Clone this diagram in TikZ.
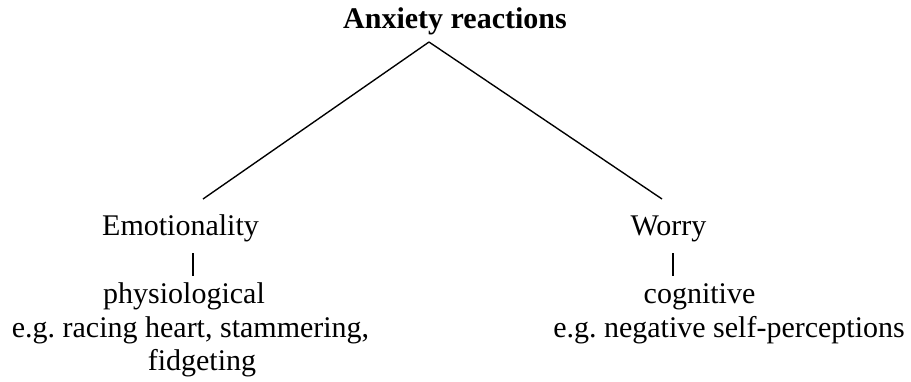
\documentclass[tikz,border=0pt]{standalone}
\usepackage{fontspec}
\setmainfont{Liberation Serif}
\usepackage{tikz}
\usetikzlibrary{positioning}
\tikzset{
  tree-text/.style={anchor=base, inner sep=0pt, font=\fontsize{12}{14}\selectfont\frenchspacing},
  root-text/.style={tree-text, font=\fontsize{12}{14}\selectfont\bfseries},
  tree-line/.style={draw=black, line width=0.55pt}
}
\begin{document}
\begin{tikzpicture}[x=0.4pt, y=-0.4pt]
\useasboundingbox (0,0) rectangle (911,381);
% root and branches
\node[root-text] (root) at (455,28) {Anxiety reactions};
\node[tree-text] (emo) at (180.5,235) {Emotionality};
\node[tree-text] (wor) at (668.5,235) {Worry};
% details under each branch
\node[tree-text] (phys) at (184,303) {physiological};
\node[tree-text] (physA) at (190.5,337) {e.g.\ racing heart, stammering,};
\node[tree-text] (physB) at (202,370) {fidgeting};
\node[tree-text] (cog) at (699.5,303) {cognitive};
\node[tree-text] (cogA) at (729,337) {e.g.\ negative self-perceptions};
% connector ends
\coordinate (apex) at (429,42);
\coordinate (emo-top) at (203,199);
\coordinate (wor-top) at (662,199);
\coordinate (emo-bar) at (193,253);
\coordinate (wor-bar) at (673,253);
\draw[tree-line] (apex) -- (emo-top);
\draw[tree-line] (apex) -- (wor-top);
\draw[tree-line] (emo-bar) -- ++(0,23);
\draw[tree-line] (wor-bar) -- ++(0,23);
\end{tikzpicture}
\end{document}
